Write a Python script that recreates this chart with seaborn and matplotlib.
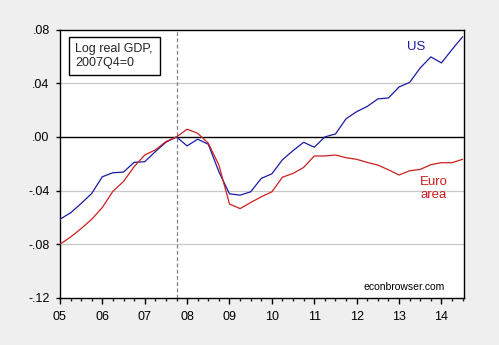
import numpy as np
import pandas as pd
import matplotlib
matplotlib.use("Agg")
import matplotlib.pyplot as plt
from matplotlib.patches import Rectangle
from matplotlib.ticker import MultipleLocator, FixedLocator, FuncFormatter
import seaborn as sns

# Quarterly dates 2005Q1 .. 2014Q3, positioned at year + (q-1)/4
quarters = [y + q / 4 for y in range(2005, 2015) for q in range(4)][:39]

# Log real GDP relative to 2007Q4
us = [-0.0613, -0.0566, -0.0496, -0.0421, -0.0297, -0.0267, -0.0262, -0.0189,
      -0.0185, -0.0110, -0.0040, 0.0000, -0.0067, -0.0017, -0.0055, -0.0260,
      -0.0424, -0.0434, -0.0409, -0.0309, -0.0275, -0.0170, -0.0102, -0.0040,
      -0.0077, 0.0000, 0.0022, 0.0135, 0.0188, 0.0227, 0.0283, 0.0290,
      0.0372, 0.0406, 0.0514, 0.0596, 0.0551, 0.0651, 0.0746]
euro = [-0.0800, -0.0746, -0.0683, -0.0613, -0.0526, -0.0405, -0.0332, -0.0222,
        -0.0135, -0.0097, -0.0035, 0.0000, 0.0057, 0.0027, -0.0047, -0.0210,
        -0.0500, -0.0534, -0.0489, -0.0446, -0.0409, -0.0300, -0.0272, -0.0227,
        -0.0142, -0.0142, -0.0135, -0.0155, -0.0167, -0.0190, -0.0210, -0.0245,
        -0.0284, -0.0252, -0.0242, -0.0207, -0.0192, -0.0192, -0.0167]

series_names = ["US", "Euro area"]
series_colors = {"US": "#1a1aa6", "Euro area": "#cc1f1f"}
year_labels = ["05", "06", "07", "08", "09", "10", "11", "12", "13", "14"]
y_ticks = [0.08, 0.04, 0.00, -0.04, -0.08, -0.12]

df = pd.DataFrame({
    "date": quarters * 2,
    "value": us + euro,
    "series": ["US"] * len(us) + ["Euro area"] * len(euro),
})

sns.set_style("white")
plt.rcParams["font.family"] = ["Liberation Sans", "DejaVu Sans"]

fig = plt.figure(figsize=(4.99, 3.45), dpi=100)
fig.patch.set_facecolor("#efefef")
ax = fig.add_axes([59.5 / 499, 1 - 298 / 345, 404 / 499, 268.5 / 345])
ax.set_facecolor("white")

# reference lines
for yv in [0.04, -0.04, -0.08]:
    ax.axhline(yv, color="#c8c8c8", lw=0.9, zorder=0)
ax.axhline(0.0, color="black", lw=1.0, zorder=1)
ax.axvline(2007.75, color="#808080", lw=0.9, ls=(0, (3, 2)), zorder=1)

sns.lineplot(data=df, x="date", y="value", hue="series", hue_order=series_names,
             palette=series_colors, linewidth=0.9, legend=False, ax=ax, zorder=3)

ax.set_xlim(2004.99, 2014.52)
ax.set_ylim(-0.12, 0.08)
ax.set_xlabel("")
ax.set_ylabel("")

for s in ax.spines.values():
    s.set_color("black")
    s.set_linewidth(1.0)

ax.yaxis.set_major_locator(FixedLocator(y_ticks))
ax.yaxis.set_major_formatter(FuncFormatter(
    lambda v, p: ("-" if v < -1e-9 else "") + ("%.2f" % abs(v))[1:]))
ax.xaxis.set_major_locator(FixedLocator(list(range(2005, 2015))))
ax.set_xticklabels(year_labels)
ax.xaxis.set_minor_locator(MultipleLocator(0.25))
ax.tick_params(axis="y", direction="out", length=3.1, width=1, pad=4,
               labelsize=9, colors="black", left=True, right=False)
ax.tick_params(axis="x", which="major", direction="out", length=4.1, width=1,
               pad=5.0, labelsize=9, colors="black", bottom=True, top=False)
ax.tick_params(axis="x", which="minor", direction="out", length=2.4, width=1,
               bottom=True, top=False)

# annotation box
fig.patches.append(Rectangle((69 / 499, 1 - 75 / 345), 91 / 499, 37.5 / 345,
                             transform=fig.transFigure, facecolor="white",
                             edgecolor="black", lw=1.0, zorder=5))
fig.text(75 / 499, 1 - 49 / 345, "Log real GDP,", fontsize=9, va="center",
         ha="left", zorder=6)
fig.text(75 / 499, 1 - 63 / 345, "2007Q4=0", fontsize=9, va="center",
         ha="left", zorder=6)

ax.text(2013.40, 0.0666, "US", color="#1a1aa6", fontsize=9.5, ha="center",
        va="center")
ax.text(2013.81, -0.0383, "Euro\narea", color="#cc1f1f", fontsize=9.5,
        ha="center", va="center", linespacing=1.12)
ax.text(2013.13, -0.1115, "econbrowser.com", color="black", fontsize=7.5,
        ha="center", va="center")

fig.savefig("out.png", dpi=100, facecolor=fig.get_facecolor())
